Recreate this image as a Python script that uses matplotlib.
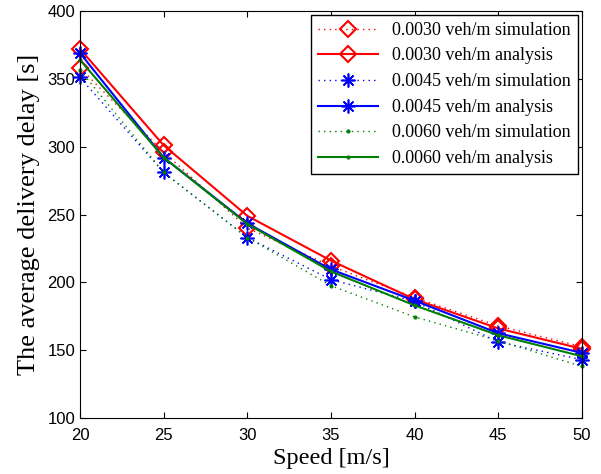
import matplotlib
matplotlib.use("Agg")
import matplotlib.pyplot as plt

# Speeds and delays
speed = [20, 25, 30, 35, 40, 45, 50]
red_sim = [358, 296, 240, 212, 188.7, 167.9, 152.6]
red_ana = [372, 301, 249, 216, 187.5, 166, 151]
blue_sim = [351, 281, 233, 202, 186, 156, 143]
blue_ana = [369, 292, 243.5, 209.5, 186.5, 162.5, 148]
green_sim = [356.5, 281, 233, 197.5, 174.5, 157, 138]
green_ana = [364, 292, 243, 208, 183, 161, 145.5]

labels = [
    "0.0030 veh/m simulation",
    "0.0030 veh/m analysis",
    "0.0045 veh/m simulation",
    "0.0045 veh/m analysis",
    "0.0060 veh/m simulation",
    "0.0060 veh/m analysis",
]

fig = plt.figure(figsize=(6.01, 4.74), dpi=100)
ax = fig.add_axes([0.1331, 0.1181, 0.8353, 0.8587])

dot = (0, (1, 3))
star = (8, 2, 0)
ax.plot(speed, red_sim, color="red", ls=dot, lw=1, marker="D", ms=8,
        mfc="none", mew=1.5, label=labels[0], clip_on=False)
ax.plot(speed, red_ana, color="red", ls="-", lw=1.5, marker="D", ms=8,
        mfc="none", mew=1.5, label=labels[1], clip_on=False)
ax.plot(speed, blue_sim, color="blue", ls=dot, lw=1, marker=star, ms=10,
        mew=1.2, label=labels[2], clip_on=False)
ax.plot(speed, blue_ana, color="blue", ls="-", lw=1.5, marker=star, ms=10,
        mew=1.2, label=labels[3], clip_on=False)
ax.plot(speed, green_sim, color="green", ls=dot, lw=1, marker=".", ms=4,
        label=labels[4], clip_on=False)
ax.plot(speed, green_ana, color="green", ls="-", lw=1.5, marker=".", ms=4,
        label=labels[5], clip_on=False)

ax.set_xlim(20, 50)
ax.set_ylim(100, 400)
ax.set_xticks(speed)
ax.set_yticks([100, 150, 200, 250, 300, 350, 400])
ax.tick_params(direction="in", top=True, right=True, labelsize=12, length=4)
ax.tick_params(axis="x", pad=7)
for lab in ax.get_xticklabels() + ax.get_yticklabels():
    lab.set_family("Liberation Sans")

ax.set_xlabel("Speed [m/s]", family="Liberation Serif", fontsize=17.5, labelpad=4)
ax.set_ylabel("The average delivery delay [s]", family="Liberation Serif",
              fontsize=19, labelpad=5)

leg = ax.legend(loc="upper right", prop={"family": "Liberation Serif", "size": 13},
                fancybox=False, edgecolor="black", framealpha=1,
                handlelength=3.3, labelspacing=0.48, borderaxespad=0.2,
                borderpad=0.4)
leg.get_frame().set_linewidth(1)

fig.savefig("out.png", dpi=100)
